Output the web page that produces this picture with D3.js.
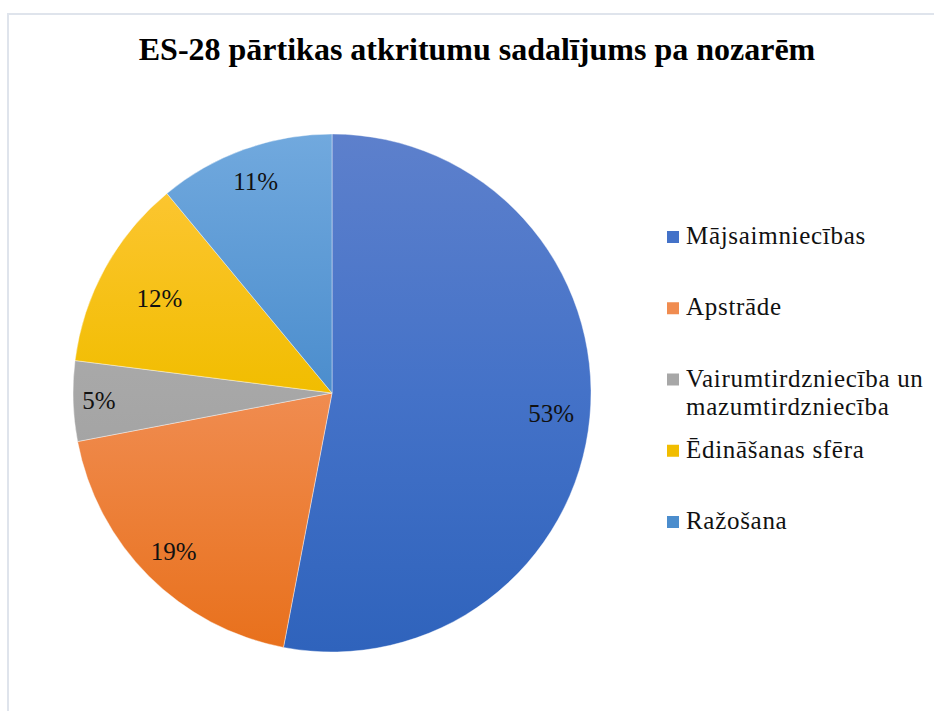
<!DOCTYPE html>
<html>
<head>
<meta charset="utf-8">
<script src="https://cdn.jsdelivr.net/npm/d3@7"></script>
<style>
  body { margin: 0; background: #fff; }
  text { font-family: "Liberation Serif", "Times New Roman", serif; }
</style>
</head>
<body>
<div id="chart"></div>
<script>

const title = "ES-28 pārtikas atkritumu sadalījums pa nozarēm";
const categories = ["Mājsaimniecības", "Apstrāde", "Vairumtirdzniecība un mazumtirdzniecība", "Ēdināšanas sfēra", "Ražošana"];
const values = [53, 19, 5, 12, 11];
// gradient stops per slice: top, middle, bottom
const colors = [
  ["#5d80cc", "#4472c8", "#2f63bc"],
  ["#f59f6c", "#f08c50", "#e8701b"],
  ["#b3b3b3", "#a7a7a7", "#989898"],
  ["#ffc83e", "#f1bd00", "#e2ae00"],
  ["#71a9de", "#4b8dcd", "#3b7dc0"]
];

const width = 934, height = 711;
const cx = 332, cy = 393, r = 259;
// excel "best fit" puts labels at slightly different depths
const labelDepth = [0.85, 0.865, 0.9, 0.76, 0.87];

const svg = d3.select("#chart")
  .append("svg")
  .attr("width", width)
  .attr("height", height);

// frame (top and left edge visible)
svg.append("line")
  .attr("x1", 7).attr("x2", width).attr("y1", 14).attr("y2", 14)
  .attr("stroke", "#dfe4ec").attr("stroke-width", 2);
svg.append("line")
  .attr("x1", 8).attr("x2", 8).attr("y1", 14).attr("y2", height)
  .attr("stroke", "#dfe4ec").attr("stroke-width", 2);

svg.append("text")
  .attr("x", 477)
  .attr("y", 60)
  .attr("text-anchor", "middle")
  .attr("font-weight", "bold")
  .attr("font-size", 32)
  .text(title);

const defs = svg.append("defs");
colors.forEach((c, i) => {
  const grad = defs.append("linearGradient")
    .attr("id", "grad" + i)
    .attr("gradientUnits", "userSpaceOnUse")
    .attr("x1", 0).attr("x2", 0)
    .attr("y1", -r).attr("y2", r);
  grad.selectAll("stop")
    .data(c)
    .enter()
    .append("stop")
    .attr("offset", (d, j) => j / (c.length - 1))
    .attr("stop-color", d => d);
});

const pie = d3.pie().sort(null).value(d => d);
const arcs = pie(values);
const arc = d3.arc().innerRadius(0).outerRadius(r);

const g = svg.append("g")
  .attr("transform", "translate(" + cx + "," + cy + ")");

g.selectAll("path")
  .data(arcs)
  .enter()
  .append("path")
  .attr("d", arc)
  .attr("fill", (d, i) => "url(#grad" + i + ")")
  .attr("stroke", "#ffffff")
  .attr("stroke-opacity", 0.5)
  .attr("stroke-width", 0.8);

const total = d3.sum(values);
g.selectAll(".lbl")
  .data(arcs)
  .enter()
  .append("text")
  .attr("class", "lbl")
  .attr("transform", (d, i) => {
    const rr = r * labelDepth[i];
    const p = d3.arc().innerRadius(rr).outerRadius(rr).centroid(d);
    return "translate(" + p + ")";
  })
  .attr("text-anchor", "middle")
  .attr("dy", "0.35em")
  .attr("font-size", 25)
  .attr("fill", "#111")
  .text(d => Math.round(d.value / total * 100) + "%");

// legend
const legend = svg.append("g").attr("transform", "translate(667,0)");
const rowY = d3.scalePoint().domain(d3.range(categories.length)).range([237, 522]);

categories.forEach((name, i) => {
  const y = rowY(i);
  legend.append("rect")
    .attr("x", 0).attr("y", y - 6)
    .attr("width", 12).attr("height", 12)
    .attr("fill", colors[i][1]);

  const t = legend.append("text")
    .attr("x", 19)
    .attr("y", y + 7)
    .attr("font-size", 25)
    .attr("letter-spacing", 0.7)
    .attr("fill", "#111");

  // simple word wrap
  const words = name.split(" ");
  let line = [];
  let tspan = t.append("tspan").attr("x", 19).attr("dy", 0);
  words.forEach(w => {
    line.push(w);
    tspan.text(line.join(" "));
    if (tspan.node().getComputedTextLength() > 255 && line.length > 1) {
      line.pop();
      tspan.text(line.join(" "));
      line = [w];
      tspan = t.append("tspan").attr("x", 19).attr("dy", 28).text(w);
    }
  });
});

</script>
</body>
</html>
